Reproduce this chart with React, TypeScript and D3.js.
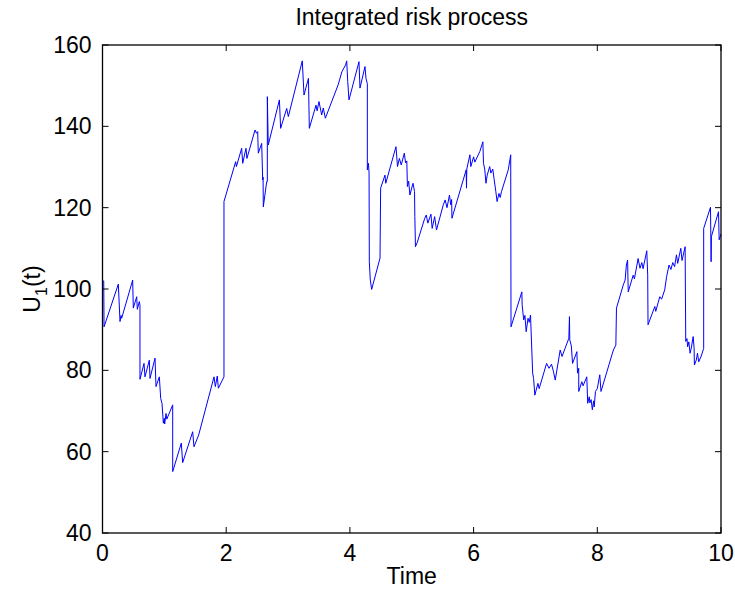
import React, { useRef, useEffect } from 'react';
import * as d3 from 'd3';

// sample path of the risk process (jumps are repeated times)
const times = [
  0, 0.02, 0.025, 0.256, 0.283, 0.3, 0.31, 0.488, 0.498, 0.553, 0.563, 0.595, 0.606, 0.606,
  0.671, 0.687, 0.757, 0.768, 0.849, 0.865, 0.919, 0.941, 0.962, 0.984, 1.0, 1.005, 1.027, 1.04,
  1.135, 1.135, 1.274, 1.296, 1.458, 1.479, 1.555, 1.803, 1.824, 1.856, 1.873, 1.964, 1.964,
  2.153, 2.165, 2.25, 2.267, 2.32, 2.335, 2.466, 2.49, 2.509, 2.519, 2.574, 2.59, 2.596, 2.6,
  2.655, 2.665, 2.665, 2.68, 2.86, 2.88, 2.978, 3.005, 3.23, 3.258, 3.33, 3.344, 3.452, 3.47,
  3.5, 3.544, 3.57, 3.603, 3.81, 3.87, 3.93, 3.948, 3.965, 3.985, 4.147, 4.163, 4.244, 4.26,
  4.282, 4.282, 4.3, 4.31, 4.314, 4.33, 4.352, 4.487, 4.497, 4.567, 4.58, 4.745, 4.77, 4.8,
  4.83, 4.88, 4.9, 4.92, 4.93, 4.95, 4.97, 5.02, 5.045, 5.05, 5.06, 5.09, 5.21, 5.235, 5.26,
  5.31, 5.33, 5.37, 5.4, 5.51, 5.54, 5.57, 5.61, 5.63, 5.645, 5.65, 5.88, 5.885, 5.89, 5.94,
  5.955, 6.0, 6.02, 6.1, 6.15, 6.16, 6.18, 6.2, 6.22, 6.26, 6.28, 6.31, 6.33, 6.36, 6.38,
  6.41, 6.43, 6.45, 6.56, 6.6, 6.605, 6.78, 6.785, 6.81, 6.83, 6.85, 6.88, 6.9, 6.92, 6.955,
  6.97, 6.99, 7.04, 7.06, 7.18, 7.22, 7.26, 7.29, 7.32, 7.4, 7.43, 7.54, 7.55, 7.555, 7.58,
  7.6, 7.67, 7.68, 7.7, 7.7, 7.75, 7.77, 7.83, 7.845, 7.87, 7.88, 7.9, 7.92, 7.94, 7.95, 7.97,
  8.0, 8.04, 8.06, 8.26, 8.3, 8.31, 8.42, 8.45, 8.47, 8.49, 8.5, 8.58, 8.6, 8.66, 8.69, 8.72,
  8.74, 8.8, 8.815, 8.82, 8.93, 8.945, 9.01, 9.04, 9.09, 9.12, 9.16, 9.19, 9.22, 9.25, 9.28,
  9.3, 9.35, 9.37, 9.42, 9.43, 9.45, 9.46, 9.48, 9.5, 9.52, 9.55, 9.565, 9.57, 9.6, 9.62,
  9.64, 9.68, 9.72, 9.72, 9.83, 9.84, 9.845, 9.96, 9.97, 10.0,
];
const values = [
  101.8, 102.0, 90.7, 101.2, 92.0, 93.5, 92.8, 102.2, 95.3, 98.1, 95.0, 96.9, 96.0, 77.8,
  81.7, 78.4, 82.5, 78.0, 83.0, 76.0, 78.4, 73.1, 71.9, 67.0, 68.2, 66.8, 69.4, 68.0,
  71.5, 55.1, 62.1, 57.3, 64.9, 61.2, 64.1, 78.4, 76.0, 78.6, 75.6, 78.4, 121.5,
  131.3, 130.1, 134.6, 130.9, 134.6, 132.1, 139.1, 138.3, 138.7, 133.4, 135.8, 126.8, 127.5, 120.2,
  126.4, 126.4, 147.3, 135.4, 146.5, 139.5, 144.4, 142.4, 156.1, 147.7, 151.8, 139.5, 145.2, 143.8,
  146.1, 142.8, 144.5, 142.0, 150.2, 153.4, 155.1, 156.1, 151.0, 146.5, 155.9, 149.4, 154.7, 151.8,
  150.5, 129.3, 130.9, 128.5, 106.7, 102.2, 99.9, 107.6, 124.8, 128.0, 126.0, 135.0, 130.1, 132.1,
  130.5, 133.4, 131.0, 131.5, 125.2, 126.5, 123.1, 126.0, 124.0, 117.8, 110.4, 111.5, 117.4, 118.2, 116.2,
  118.4, 114.9, 117.8, 114.5, 120.7, 121.9, 120.0, 123.1, 120.7, 122.0, 117.4, 129.3, 124.8, 129.5, 133.0,
  130.1, 132.5, 131.2, 133.8, 136.2, 130.9, 129.5, 126.0, 128.0, 130.1, 128.5, 129.5, 127.2, 123.9, 121.5,
  123.5, 122.5, 123.9, 129.3, 133.0, 90.7, 99.3, 96.1, 92.4, 93.5, 89.5, 92.8, 91.8, 93.6, 79.3,
  78.0, 73.9, 76.8, 75.5, 81.7, 80.5, 81.5, 79.8, 77.6, 85.0, 83.4, 87.9, 93.2, 87.5, 86.0,
  81.7, 84.6, 79.3, 80.5, 74.8, 77.2, 76.2, 78.4, 71.9, 73.5, 72.0, 72.8, 70.3, 72.5, 71.0, 74.8,
  75.5, 78.9, 74.8, 85.0, 86.2, 95.3, 101.0, 102.2, 105.9, 107.1, 99.3, 103.4, 102.5, 107.5, 105.1, 106.5,
  105.0, 109.4, 103.4, 91.2, 95.7, 94.5, 98.1, 97.5, 99.8, 103.0, 105.9, 104.8, 106.5, 105.5, 108.4,
  106.3, 110.0, 107.0, 110.4, 87.1, 87.8, 85.8, 87.0, 84.2, 85.5, 88.3, 85.5, 81.3, 82.5, 84.2,
  82.1, 83.5, 85.4, 114.9, 120.1, 106.7, 112.9, 119.0, 112.1, 113.5,
];

const xTicks = [0, 2, 4, 6, 8, 10];
const yTicks = [40, 60, 80, 100, 120, 140, 160];

const W = 735;
const H = 590;
const margin = { top: 45, right: 14, bottom: 57, left: 102.5 };
const font = 'Liberation Sans, Arial, Helvetica, sans-serif';

export default function App() {
  const ref = useRef<SVGSVGElement>(null);

  useEffect(() => {
    document.body.style.margin = '0';
    const svg = d3.select(ref.current);
    svg.selectAll('*').remove();

    const x = d3.scaleLinear().domain([0, 10]).range([margin.left, W - margin.right]);
    const y = d3.scaleLinear().domain([40, 160]).range([H - margin.bottom, margin.top]);
    const pts = times.map((t, i) => [t, values[i]] as [number, number]);

    svg.append('rect')
      .attr('x', 0).attr('y', 0).attr('width', W).attr('height', H)
      .attr('fill', '#fff');

    svg.append('path')
      .datum(pts)
      .attr('fill', 'none')
      .attr('stroke', '#0000ff')
      .attr('stroke-width', 1)
      .attr('d', d3.line().x(d => x(d[0])).y(d => y(d[1])));

    const tk = 6;
    const g = svg.append('g').attr('stroke', '#000').attr('stroke-width', 1);
    xTicks.forEach(t => {
      g.append('line').attr('x1', x(t)).attr('x2', x(t)).attr('y1', y(40)).attr('y2', y(40) - tk);
      g.append('line').attr('x1', x(t)).attr('x2', x(t)).attr('y1', y(160)).attr('y2', y(160) + tk);
    });
    yTicks.forEach(v => {
      g.append('line').attr('x1', x(0)).attr('x2', x(0) + tk).attr('y1', y(v)).attr('y2', y(v));
      g.append('line').attr('x1', x(10)).attr('x2', x(10) - tk).attr('y1', y(v)).attr('y2', y(v));
    });
    svg.append('rect')
      .attr('x', x(0)).attr('y', y(160))
      .attr('width', x(10) - x(0)).attr('height', y(40) - y(160))
      .attr('fill', 'none').attr('stroke', '#000').attr('stroke-width', 1.3);

    const txt = svg.append('g').attr('font-family', font).attr('fill', '#000');
    xTicks.forEach(t => {
      txt.append('text').attr('x', x(t)).attr('y', y(40) + 28)
        .attr('text-anchor', 'middle').attr('font-size', 23).text(t);
    });
    yTicks.forEach(v => {
      txt.append('text').attr('x', x(0) - 11).attr('y', y(v) + 8)
        .attr('text-anchor', 'end').attr('font-size', 23).text(v);
    });

    txt.append('text').attr('x', (x(0) + x(10)) / 2).attr('y', 25)
      .attr('text-anchor', 'middle').attr('font-size', 23).text('Integrated risk process');
    txt.append('text').attr('x', (x(0) + x(10)) / 2).attr('y', 584)
      .attr('text-anchor', 'middle').attr('font-size', 23).text('Time');

    const yl = txt.append('text')
      .attr('transform', `translate(40,${(y(40) + y(160)) / 2}) rotate(-90)`)
      .attr('text-anchor', 'middle').attr('font-size', 23);
    yl.append('tspan').text('U');
    yl.append('tspan').attr('font-size', 16).attr('dy', 7).text('1');
    yl.append('tspan').attr('dy', -7).text('(t)');
  }, []);

  return <svg ref={ref} width={W} height={H} style={{ display: 'block' }} />;
}
